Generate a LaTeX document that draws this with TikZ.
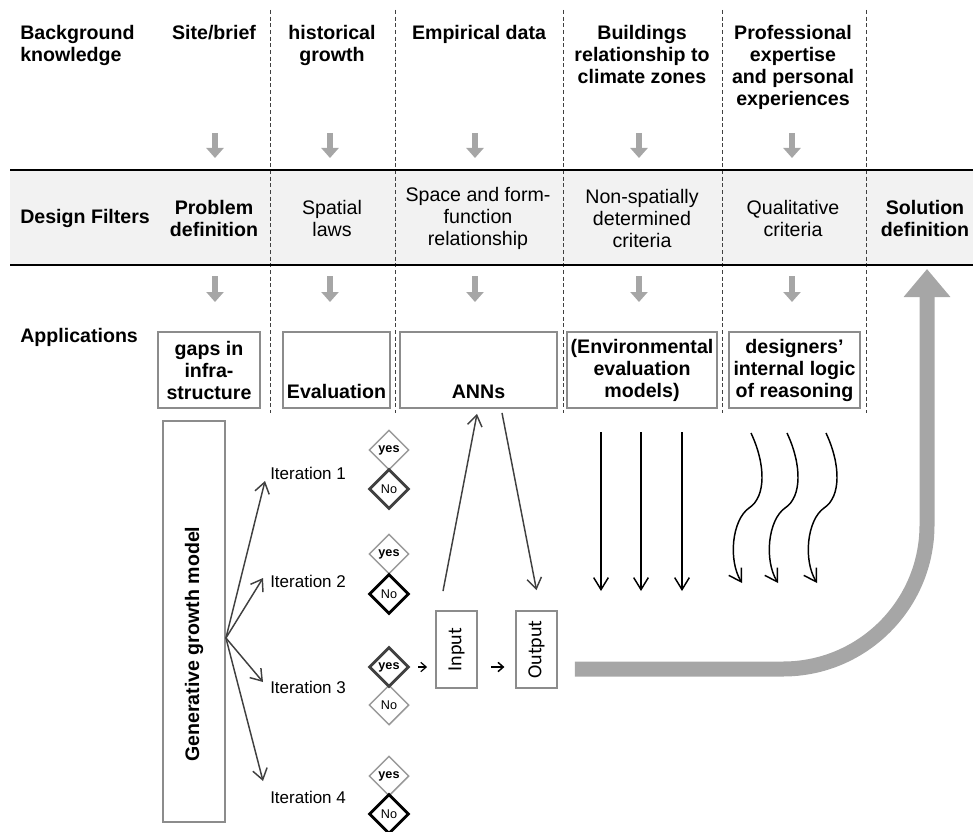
\documentclass[tikz,border=0pt]{standalone}
\usepackage{fontspec}
\setmainfont{Liberation Sans}
\newfontfamily\calfont{Carlito}
\usepackage{tikz}
\usetikzlibrary{arrows.meta,shapes.geometric}

\definecolor{bandgray}{HTML}{F2F2F2}
\definecolor{arrgray}{HTML}{A6A6A6}
\definecolor{boxgray}{HTML}{8C8C8C}
\definecolor{dkgray}{HTML}{404040}
\definecolor{ltgray}{HTML}{999999}
\newcommand{\hdfont}{\fontsize{14.7}{16.5}\selectfont}

\begin{document}
\begin{tikzpicture}[x=0.75pt,y=-0.75pt,
  hd/.style={font=\hdfont\bfseries,align=center,anchor=north,inner sep=0pt},
  flt/.style={font=\hdfont,align=center,inner sep=0pt},
  appbox/.style={draw=boxgray,line width=1.4pt,font=\hdfont\bfseries,align=center,minimum height=57pt,inner sep=0pt},
  tall/.style={draw=boxgray,line width=1.4pt,rotate=90,inner sep=0pt},
  itl/.style={anchor=west,inner sep=0pt,font=\fontsize{12.75}{14}\selectfont},
  dm/.style={diamond,draw=ltgray,line width=1.1pt,minimum width=30pt,minimum height=30pt,inner sep=0pt,font=\fontsize{9.5}{10}\selectfont},
  dmon/.style={dm,draw=dkgray,line width=2.2pt},
  dmblk/.style={dm,draw=black,line width=2.2pt},
  grayarr/.style={arrgray,line width=4.5pt,-{Triangle[width=12.75pt,length=7.5pt]}},
  bigarr/.style={arrgray,line width=11.25pt,rounded corners=108pt,-{Triangle[width=33.75pt,length=21pt]}},
  ln/.style={dkgray,line width=1.1pt,-{Straight Barb[length=8pt,width=11pt]}},
  blk/.style={black,line width=1.1pt,-{Straight Barb[length=9pt,width=11pt]}},
  sml/.style={black,line width=0.9pt,-{Straight Barb[length=4pt,width=7pt]}},
  sep/.style={dkgray,line width=0.75pt,dash pattern=on 3pt off 2pt}
]
\useasboundingbox (0,0) rectangle (973,831);

% filter band
\fill[bandgray] (10,170) rectangle (973,265);
\foreach \x in {270,395,563,722,866}
  \draw[sep] (\x,10) -- (\x,413);
\draw[line width=1.8pt] (10,170) -- (973,170);
\draw[line width=1.8pt] (10,265) -- (973,265);

% background knowledge
\node[hd,anchor=north west,align=left] (bk) at (20,25) {Background\\knowledge};
\node[hd] (site) at (214,25) {Site/brief};
\node[hd] (hist) at (332,25) {historical\\growth};
\node[hd] (emp) at (479,25) {Empirical data};
\node[hd] (bld) at (642,25) {Buildings\\relationship to\\climate zones};
\node[hd] (prof) at (793,25) {Professional\\expertise\\and personal\\experiences};

\foreach \x in {215,330,475,639,792} {
  \draw[grayarr] (\x,133) -- (\x,158);
  \draw[grayarr] (\x,276) -- (\x,302);
}

% design filters
\node[flt,anchor=west,font=\hdfont\bfseries] (df) at (20,218) {Design Filters};
\node[flt,font=\hdfont\bfseries] (prob) at (214,218) {Problem\\definition};
\node[flt] (spat) at (332,218) {Spatial\\laws};
\node[flt] (form) at (478,218) {Space and form-\\function\\relationship};
\node[flt] (nonsp) at (642,218) {Non-spatially\\determined\\criteria};
\node[flt] (qual) at (793,218) {Qualitative\\criteria};
\node[flt,font=\hdfont\bfseries] (sol) at (925,218) {Solution\\definition};

% applications
\node[flt,anchor=west,font=\hdfont\bfseries] (app) at (20,337) {Applications};
\node[appbox,minimum width=76.5pt] (gaps) at (209,370) {gaps in\\infra-\\structure};
\node[appbox,minimum width=80.25pt,text height=49.5pt,text depth=7.5pt] (eval) at (336.5,370) {Evaluation};
\node[appbox,minimum width=117.75pt,text height=49.5pt,text depth=7.5pt] (anns) at (478.5,370) {ANNs};
\node[appbox,minimum width=112.5pt] (env) at (642,370) {(Environmental\\evaluation\\models)};
\node[appbox,minimum width=98.25pt] (dsgn) at (794.5,370) {designers'\\internal logic\\of reasoning};

% growth model and iterations
\node[tall,minimum width=300.75pt,minimum height=46.5pt,font=\hdfont\bfseries] (ggm) at (194,621.5) {Generative growth model\hspace*{34pt}};
\coordinate (fan) at ([shift={(0,16.5)}]ggm.south);

\node[itl] (it1) at (270,473) {Iteration 1};
\node[itl] (it2) at (270,581) {Iteration 2};
\node[itl] (it3) at (270,687) {Iteration 3};
\node[itl] (it4) at (270,797) {Iteration 4};

\draw[ln] (fan) -- ([shift={(-5,8)}]it1.west);
\draw[ln] (fan) -- ([shift={(-7,-3)}]it2.west);
\draw[ln] (fan) -- ([shift={(-7,-5)}]it3.west);
\draw[ln] (fan) -- ([shift={(-7,-16)}]it4.west);

\node[dm] (y1) at (389,450) {\bfseries yes};
\node[dmon] (n1) at (389,489) {No};
\node[dm] (y2) at (389,554) {\bfseries yes};
\node[dmblk] (n2) at (389,594) {No};
\node[dm] (n3) at (389,705) {No};
\node[dmon] (y3) at (389,667) {\bfseries yes};
\node[dm] (y4) at (389,776) {\bfseries yes};
\node[dmblk] (n4) at (389,814) {No};

% ANN input / output
\node[tall,minimum width=57.75pt,minimum height=30.75pt,font=\calfont\fontsize{15}{16}\selectfont] (inp) at (456.5,649.5) {Input};
\node[tall,minimum width=57.75pt,minimum height=30.75pt,font=\calfont\fontsize{15}{16}\selectfont] (out) at (536.5,649.5) {Output};

\draw[sml,shorten <=6pt,shorten >=6pt] (y3.east) -- (y3.east -| inp.north);
\draw[sml,line width=1.1pt,shorten <=10pt,shorten >=8pt] (inp.south |- y3) -- (out.north |- y3);
\draw[ln] ([shift={(-13.5,-19)}]inp.east) -- ([shift={(-1.5,5)}]anns.south);
\draw[ln] ([shift={(23.5,4)}]anns.south) -- ([shift={(0,-20)}]out.east);

% criteria arrows
\foreach \x in {601,641,682}
  \draw[blk] (\x,432) -- (\x,591);
\foreach \dx in {0,36,75}
  \draw[blk,shift={(\dx,0)}] (751,433) .. controls (766,465) and (766,497) .. (749,508)
    .. controls (732,520) and (728,560) .. (742,583);

% feedback to solution
\coordinate (fb) at ([shift={(17,19.5)}]out.south);
\coordinate (soltip) at (927,269);
\draw[bigarr] (fb) -| (soltip);
\end{tikzpicture}
\end{document}
